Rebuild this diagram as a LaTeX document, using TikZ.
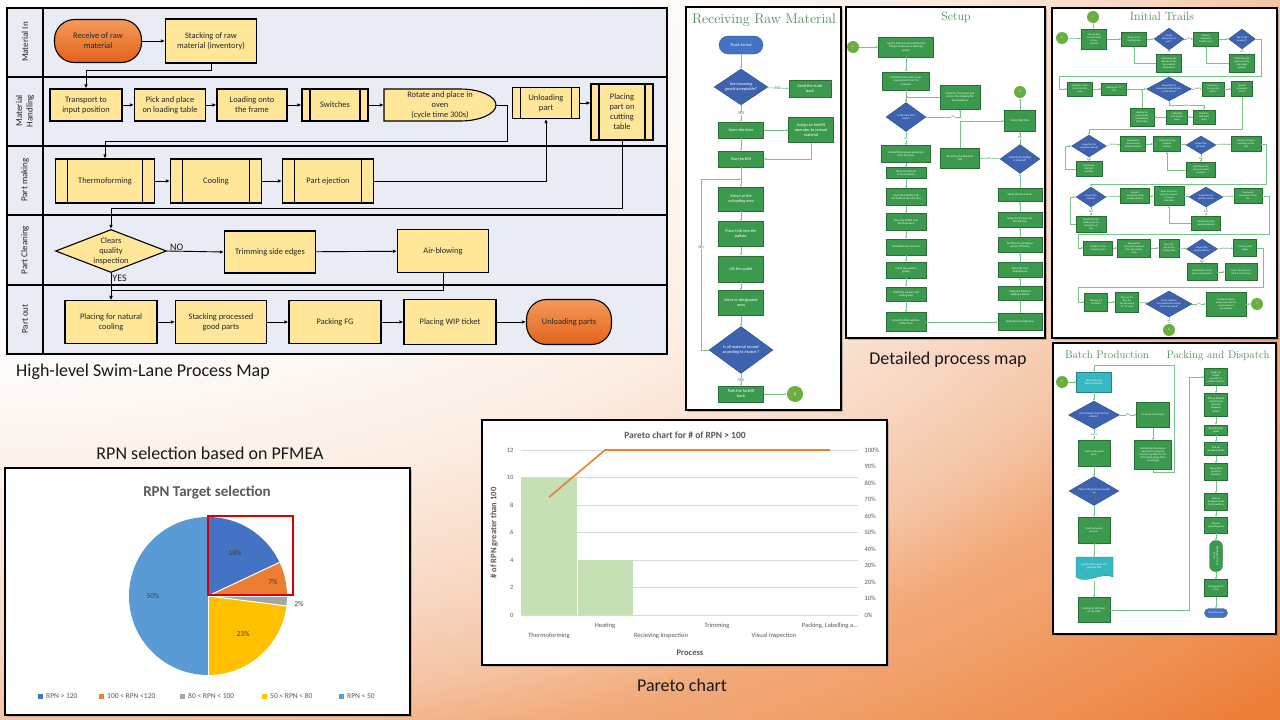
\documentclass[tikz,border=0pt]{standalone}
\usepackage{fontspec}
\newfontfamily\calib{Carlito}
\usetikzlibrary{arrows.meta, shapes.geometric, shadows}

\definecolor{lanefill}{HTML}{E9EBF5}
\definecolor{procy}{HTML}{FFE699}
\definecolor{orngA}{HTML}{F59A5B}
\definecolor{orngB}{HTML}{E2631A}
\definecolor{grnbox}{HTML}{3B9A4D}
\definecolor{grnline}{HTML}{78C48B}
\definecolor{grnttl}{HTML}{4E8D5D}
\definecolor{bludec}{HTML}{3D63AF}
\definecolor{bluterm}{HTML}{4472C4}
\definecolor{olvcirc}{HTML}{6BAE3F}
\definecolor{tealbox}{HTML}{36B8C0}
\definecolor{pieA}{HTML}{4472C4}
\definecolor{pieB}{HTML}{ED7D31}
\definecolor{pieC}{HTML}{A5A5A5}
\definecolor{pieD}{HTML}{FFC000}
\definecolor{pieE}{HTML}{5B9BD5}
\definecolor{barg}{HTML}{C5E0B4}
\definecolor{gridg}{HTML}{D9D9D9}
\definecolor{axtxt}{HTML}{595959}
\definecolor{bgA}{HTML}{FCEEE4}
\definecolor{bgB}{HTML}{F8D6C0}
\definecolor{bgC}{HTML}{F5C4A4}
\definecolor{bgD}{HTML}{F2AA7A}
\definecolor{bgE}{HTML}{F0955A}
\definecolor{bgF}{HTML}{EC7C34}

% background: white in the top left corner, orange in the bottom right one
\pgfdeclareradialshading{bgshd}{\pgfpoint{0bp}{0bp}}{color(0bp)=(white); color(7.5bp)=(white); color(11.67bp)=(bgA); color(15bp)=(bgB); color(16.67bp)=(bgC); color(18.17bp)=(bgD); color(20.83bp)=(bgE); color(23.57bp)=(bgF); color(50bp)=(bgF)}

\begin{document}
\begin{tikzpicture}[x=1pt, y=-1pt]
\tikzset{ >={Latex[length=4pt, width=3.5pt]},
  wh/.style 2 args={minimum width=#1pt, minimum height=#2pt},
  fz/.style 2 args={font=\calib\fontsize{#1}{#2}\selectfont},
  fzb/.style 2 args={font=\calib\bfseries\fontsize{#1}{#2}\selectfont},
  lanetxt/.style={rotate=90, fz={9}{10.5}, align=center, text=black!85},
  proc/.style={draw=black, line width=1.1pt, fill=procy, inner sep=1pt, align=center, text=black!85, fz={8.4}{10}},
  pred/.style={proc, path picture={\draw [line width=1.1pt]
      ([xshift=#1pt]path picture bounding box.north west) -- ([xshift=#1pt]path picture bounding box.south west)
      ([xshift=-#1pt]path picture bounding box.north east) -- ([xshift=-#1pt]path picture bounding box.south east);}},
  pred/.default=8,
  term/.style={proc, rounded corners=20pt, top color=orngA, bottom color=orngB},
  dec/.style={diamond, draw=black, line width=1.1pt, fill=procy, inner sep=0pt},
  dectxt/.style={align=center, text=black!85, fz={8.4}{10}},
  link/.style={->, line width=0.9pt},
  yn/.style={fz={10}{12}, text=black!90, inner sep=1pt},
  capt/.style={fz={18}{21}, text=black!90},
  frm/.style={draw=black, line width=2.4pt, fill=white, drop shadow={shadow xshift=1.5pt, shadow yshift=-1.5pt, opacity=0.5}},
  ttl/.style={font=\rmfamily\fontsize{#1}{#1}\selectfont, text=grnttl},
  gstep/.style={draw=grnbox!70!black, line width=0.3pt, fill=grnbox, text=white, align=center, inner sep=0.3pt},
  tstep/.style={gstep, fill=tealbox, draw=tealbox!70!black},
  bterm/.style={gstep, fill=bluterm, draw=bluterm!70!black, rounded corners=#1pt},
  bdec/.style={diamond, fill=bludec, draw=bludec!70!black, line width=0.3pt, inner sep=0pt},
  dtx/.style={text=white, align=center},
  gcirc/.style={circle, fill=olvcirc, text=white, inner sep=0pt, minimum size=#1pt},
  gl/.style={draw=grnline, line width=0.6pt, -{Latex[length=2.2pt, width=2pt]}},
  glbl/.style={fill=white, inner sep=0.3pt, text=grnbox!80!black},
  chfrm/.style={draw=black, line width=1.8pt, fill=white, drop shadow={shadow xshift=2pt, shadow yshift=-2pt, opacity=0.4}},
  pietxt/.style={fz={7.5}{9}, text=black!75},
  lgtxt/.style={fz={7.5}{9}, text=axtxt, anchor=west, inner sep=0pt},
  axlbl/.style={fz={6.5}{8}, text=axtxt},
  axttl/.style={fzb={8.5}{10}, text=axtxt},
}

\useasboundingbox (0,0) rectangle (1280,720);
\begin{scope}
\clip (0,0) rectangle (1280,720);
\shade [shading=bgshd] (0,0) ellipse [x radius=1920pt, y radius=1080pt];
\end{scope}

% swim lanes
\fill [lanefill] (7,8) rectangle (667,354);
\draw [line width=1.8pt] (7,8) rectangle (667,354);
\draw [line width=1.8pt] (43,8) -- (43,354);
\draw [line width=1.8pt] (7,77)  -- (667,77);
\draw [line width=1.8pt] (7,146) -- (667,146);
\draw [line width=1.8pt] (7,215) -- (667,215);
\draw [line width=1.8pt] (7,285) -- (667,285);

\node [lanetxt] (lnA) at (25,42)  {Material In};
\node [lanetxt] (lnB) at (25,111) {Material\\Handling};
\node [lanetxt] (lnC) at (25,180) {Part making};
\node [lanetxt] (lnD) at (25,250) {Part Cleaning};
\node [lanetxt] (lnE) at (25,319) {Part out};

\node [term, wh={87}{43}] (rcv) at (98,41)  {Receive of raw\\material};
\node [proc, wh={91}{44}] (stk) at (211,41) {Stacking of raw\\material (inventory)};

\node [proc, wh={72}{32}] (trn) at (86,105)  {Transport to\\input position};
\node [proc, wh={71}{32}] (pnp) at (170,105) {Pick and place\\on loading table};
\node [proc, wh={70}{32}] (ldf) at (252,105) {Loading onto\\the frame};
\node [pred, wh={66}{32}] (swt) at (335,105) {Switches};
\draw [line width=1.1pt, fill=procy] (384,89) -- (460,89)
      arc [start angle=90, end angle=-90, x radius=36pt, y radius=16pt] -- (384,121) -- cycle;
\node [dectxt, wh={112}{32}, inner sep=0pt] (ovn) at (440,105) {Rotate and place in\\oven\\(cycle time 300s)};
\node [pred, wh={67}{31}] (unl) at (546,103) {Unloading\\part};
\node [pred, wh={62}{56}] (pct) at (622,112) {Placing\\part on\\cutting\\table};

\node [pred=12, wh={99}{44}] (thf) at (105,181) {Thermoforming};
\node [pred=12, wh={91}{44}] (col) at (216,181) {Cooling};
\node [pred=12, wh={91}{44}] (pej) at (328,181) {Part ejection};

\node [dec, wh={111}{43}, label={[dectxt]center:{Clears\\quality\\inspection}}] (cqi) at (111,251) {};
\node [proc, wh={91}{42}] (tse) at (270,252) {Trimming side edges};
\node [proc, wh={91}{43}] (air) at (443,251) {Air-blowing};

\node [proc, wh={92}{43}] (pnc) at (111,322) {Placing for natural\\cooling};
\node [proc, wh={91}{43}] (spg) at (221,322) {Stacking processed\\good parts};
\node [proc, wh={92}{43}] (pfg) at (335,322) {Packing FG};
\node [proc, wh={92}{45}] (wip) at (450,322) {Placing WIP ticket};
\node [term, wh={85}{45}] (unp) at (569,322) {Unloading parts};

\draw [link] (rcv) -- (stk);
\draw [link] (stk.south) -- ++(0,7) -| (trn.north);
\draw [link] (trn) -- (pnp);
\draw [link] (pnp) -- (ldf);
\draw [link] (ldf) -- (swt);
\draw [link] (swt) -- (ovn);
\draw [link] (ovn.east) -- (507,105) -- (507,141) -| (thf.north);
\draw [link] (thf) -- (col);
\draw [link] (col) -- (pej);
\draw [link] (pej.east) -| (unl.south);
\draw [link] (unl.east) -- (unl.east -| pct.west);
\draw [link] (pct.south) -- (622,208) -| (cqi.north);
\draw [link] (cqi.east) -- node [yn, pos=0.17, anchor=south, yshift=-1pt] {NO} (tse.west);
\draw [link] (tse) -- (air);
\draw [link] (air.south) -- (443,290) -| (pnc.north);
\draw [link] (cqi.south) -- node [yn, pos=0.2, anchor=west] {YES} (pnc.north);
\draw [link] (pnc) -- (spg);
\draw [link] (spg) -- (pfg);
\draw [link] (pfg) -- (wip);
\draw [link] (wip) -- (unp);

\node [capt] (slcap) at (143,372) {High-level Swim-Lane Process Map};

% receiving raw material
\draw [frm] (686,7) rectangle (841,410);
\begin{scope}[every node/.append style={fz={4.2}{4.9}}]
\node [ttl=14] (rrmt) at (764,20) {Receiving Raw Material};
\node [bterm=9, wh={44}{18}] (trk) at (741,45) {Truck Arrival};
\node [bdec, wh={54}{36}, label={[dtx]center:{Are incoming\\goods acceptable?}}] (agq) at (741,87) {};
\node [gstep, wh={42}{17}] (stb) at (810,89) {Send the truck\\back};
\node [gstep, wh={45}{16}] (opd) at (741,130) {Open the door};
\node [gstep, wh={45}{25}] (afo) at (811,130) {Assign an forklift\\operator to unload\\material};
\node [gstep, wh={45}{16}] (sfl) at (741,159) {Start forklift};
\node [gstep, wh={45}{24}] (aua) at (741,199) {Arrive at the\\unloading area};
\node [gstep, wh={45}{25}] (pfp) at (741,234) {Place fork into the\\pallate};
\node [gstep, wh={45}{26}] (ltp) at (741,269) {Lift the pallet};
\node [gstep, wh={45}{25}] (dda) at (741,303) {Drive to designated\\area};
\node [bdec, wh={64}{47}, label={[dtx]center:{Is all material moved\\according to invoice ?}}] (amm) at (741,350) {};
\node [gstep, wh={45}{16}] (pfb) at (741,394) {Park the forklift\\back};
\node [gcirc=16] (cA1) at (795,394) {A};

\draw [gl] (trk) -- (agq);
\draw [gl] (agq) -- node [glbl] {NO} (stb);
\draw [gl] (agq) -- node [glbl] {YES} (opd);
\draw [gl] (opd) -- (afo);
\draw [gl] (opd) -- (sfl);
\draw [gl] (afo.south) |- (sfl.east);
\draw [gl] (sfl) -- (aua);
\draw [gl] (aua) -- (pfp);
\draw [gl] (pfp) -- (ltp);
\draw [gl] (ltp) -- (dda);
\draw [gl] (dda) -- (amm);
\draw [gl] (amm) -- node [glbl] {YES} (pfb);
\draw [gl] (pfb) -- (cA1);
\draw [gl] (amm.west) -- (701,350) -- node [glbl, pos=0.6] {No} (701,179) -- (741,179);
\end{scope}

% setup
\draw [frm] (846,7) rectangle (1045,338);
\begin{scope}[every node/.append style={fz={2.8}{3.3}}]
\node [ttl=12] (sett) at (956,17) {Setup};
\node [gcirc=12] (cA2) at (853,47) {A};
\node [gstep, wh={55}{20}] (lgm) at (906,47) {Log the material received into the\\Enterprise Resource Planning\\system};
\node [gstep, wh={47}{18}] (sch) at (906,81) {Scheduling the order as per\\requirement from the\\customer};
\node [gstep, wh={40}{24}] (cts) at (960,97) {Check for Tool status and\\what is the stripping the\\tool readiness};
\node [bdec, wh={40}{29}, label={[dtx]center:{Is the new tool\\ready?}}] (ntr) at (906,117) {};
\node [gstep, wh={49}{17}] (ups) at (906,154) {Unload the previous setup tool\\from the press};
\node [gstep, wh={40}{11}] (pot) at (906,173) {Place the old tool\\in the inventory};
\node [gstep, wh={40}{17}] (pfl) at (906,197) {Place the forklift to lift\\the Pallet of the new tool};
\node [gstep, wh={40}{17}] (dfp) at (906,222) {Drive the forklift near\\the Press Area};
\node [gstep, wh={40}{16}] (intl) at (906,247) {Installation the new tool};
\node [gstep, wh={40}{16}] (iwg) at (906,270) {Install the wooden\\guides};
\node [gstep, wh={40}{14}] (ivc) at (906,294) {Install the vacuum and\\cooling lines};
\node [gstep, wh={40}{19}] (sls) at (906,322) {Setup the limit switches\\of the Press};
\node [gstep, wh={44}{17}] (smf) at (1020,322) {Setup the moving Frame};
\node [gstep, wh={44}{14}] (stl) at (1020,293) {Setup the Table for\\loading material};
\node [gstep, wh={44}{15}] (stt) at (1020,270) {Setup the Tool\\temperature};
\node [gstep, wh={44}{15}] (sfo) at (1020,245) {Set the Fan orientation\\and on off timing};
\node [gstep, wh={44}{15}] (spp) at (1020,220) {Setup the Pressure for\\Part Ejection};
\node [gstep, wh={44}{13}] (soz) at (1020,195) {Setup the Oven zones};
\node [bdec, wh={40}{29}, label={[dtx]center:{Confirm the Setting\\is all good?}}] (csg) at (1020,159) {};
\node [gstep, wh={31}{21}] (sit) at (1020,121) {Start Initial Trials};
\node [gcirc=12] (cB1) at (1020,92) {B};
\node [gstep, wh={39}{20}] (rrt) at (960,158) {Receiving the Required\\tool};

\draw [gl] (cA2) -- (lgm);
\draw [gl] (lgm) -- (sch);
\draw [gl] (sch) -- (ntr);
\draw [gl] (ntr.east) -| node [glbl, pos=0.4] {No} (cts.south);
\draw [gl] (cts.west) -- (906,97);
\draw [gl] (ntr) -- node [glbl] {Yes} (ups);
\draw [gl] (ups) -- (pot);
\draw [gl] (pot) -- (pfl);
\draw [gl] (pfl) -- (dfp);
\draw [gl] (dfp) -- (intl);
\draw [gl] (intl) -- (iwg);
\draw [gl] (iwg) -- (ivc);
\draw [gl] (ivc) -- (sls);
\draw [gl] (sls) -- (smf);
\draw [gl] (smf) -- (stl);
\draw [gl] (stl) -- (stt);
\draw [gl] (stt) -- (sfo);
\draw [gl] (sfo) -- (spp);
\draw [gl] (spp) -- (soz);
\draw [gl] (soz) -- (csg);
\draw [gl] (csg) -- node [glbl] {Yes} (sit);
\draw [gl] (sit) -- (cB1);
\draw [gl] (csg) -- node [glbl] {No} (rrt);
\draw [gl] (rrt.north) |- (sit.west);
\end{scope}

% initial trails
\draw [frm] (1052,8) rectangle (1277,338);
\begin{scope}[every node/.append style={fz={2.5}{3}}]
\node [ttl=12] (itt) at (1162,16) {Initial Trails};
\node [gcirc=12] (cB2) at (1062,38) {B};
\node [gcirc=12] (cC1) at (1093,17) {C};
\node [gstep, wh={25}{20}] (lop) at (1094,39) {Lift one part\\from the stack\\of raw\\material};
\node [gstep, wh={25}{14}] (plt) at (1134,39) {Place on the\\loading table};
\node [bdec, wh={30}{22}, label={[dtx]center:{Proper\\placement of\\part?}}] (ppp) at (1169,39) {};
\node [gstep, wh={25}{14}] (flh) at (1206,39) {Frame is\\lowered to\\hold the part};
\node [bdec, wh={27}{20}, label={[dtx]center:{Did it hold\\properly?}}] (dhp) at (1242,39) {};
\node [gstep, wh={25}{18}] (cfm) at (1169,63) {Calibrating the\\fixtures as per\\the material\\dimensions};
\node [gstep, wh={25}{18}] (cpg) at (1242,63) {Calibrating the\\pressure of the\\pneumatic\\grippers};

\node [gstep, wh={25}{14}] (rfo) at (1080,89) {Rotation of the\\frame into the\\oven};
\node [gstep, wh={25}{12}] (hxm) at (1114,89) {Heating for "X"\\mins};
\node [bdec, wh={45}{24}, label={[dtx]center:{Inspection for\\temperature distribution\\on the blank?}}] (itd) at (1169,89) {};
\node [gstep, wh={22}{14}] (rps) at (1213,89) {Rotation in\\to the press\\station};
\node [gstep, wh={21}{15}] (umt) at (1242,89) {Upward\\movement\\of the};
\node [gstep, wh={24}{18}] (hat) at (1142,117) {Heating for\\acquiring the\\temperature\\distribution};
\node [gstep, wh={21}{14}] (cir) at (1177,117) {Calibration\\of IR Heater\\zones};
\node [gstep, wh={22}{14}] (ccs) at (1204,117) {Check for\\cold spots\\zones};

\node [bdec, wh={35}{22}, label={[dtx]center:{Inspection for\\complete sealing?}}] (cse) at (1089,146) {};
\node [gstep, wh={25}{15}] (dmw) at (1133,144) {Downward\\movement of\\wooden fixtures};
\node [gstep, wh={27}{15}] (tvs) at (1167,144) {Thermoforming\\(Vacuum\\Suction)};
\node [bdec, wh={30}{18}, label={[dtx]center:{Inspect the\\forming?}}] (ift) at (1201,145) {};
\node [gstep, wh={30}{15}] (fcf) at (1246,144) {Forced cooling by\\switching on the\\fans};
\node [gstep, wh={26}{15}] (rls) at (1089,169) {Recalibrate\\the limit\\switches};
\node [gstep, wh={29}{15}] (rvp) at (1201,170) {Recalibrate the\\vacuum suction\\pressure};

\node [bdec, wh={30}{20}, label={[dtx]center:{Inspect the\\cooling?}}] (icl) at (1091,197) {};
\node [gstep, wh={29}{15}] (umw) at (1135,196) {Upward\\movement of the\\wooden fixtures};
\node [gstep, wh={30}{19}] (bop) at (1169,196) {Blow out of the\\part by pressure\\in reverse\\direction};
\node [bdec, wh={34}{20}, label={[dtx]center:{Inspection for\\ejection issues?}}] (iei) at (1206,197) {};
\node [gstep, wh={28}{15}] (dmd) at (1248,196) {Downward\\movement of the\\die};
\node [gstep, wh={30}{16}] (rlf) at (1091,224) {Recalibrate the\\limiting and set\\orientation of\\fans};
\node [gstep, wh={29}{14}] (rep) at (1206,223) {Recalibrating the\\ejection pressure};

\node [gstep, wh={29}{14}] (rua) at (1098,248) {Rotation to the\\unloading area};
\node [gstep, wh={33}{18}] (rtp) at (1134,248) {Remove the\\thermoformed part\\from the loading\\table};
\node [gstep, wh={20}{18}] (pcu) at (1169,248) {Place the\\part on the\\cutting table};
\node [bdec, wh={31}{20}, label={[dtx]center:{Inspect the\\quality defects?}}] (iqd) at (1202,249) {};
\node [gstep, wh={23}{17}] (trm) at (1245,248) {Trimming side\\edges};
\node [gstep, wh={30}{17}] (opp) at (1202,272) {Optimization of the\\process parameters};
\node [gstep, wh={32}{17}] (rjs) at (1241,272) {Reject the part and\\stack it up for scrap};

\node [gstep, wh={23}{18}] (bod) at (1096,302) {Blowing off\\the debris};
\node [gstep, wh={23}{20}] (pff) at (1127,302) {Place on the\\floor for\\forced cooling\\for "N" mins};
\node [bdec, wh={46}{26}, label={[dtx]center:{Check whether\\consecutive XX number\\of parts are good?}}] (cxg) at (1169,304) {};
\node [gstep, wh={40}{24}] (ibp) at (1226,304) {Initiate for batch\\production with the\\current process\\parameters};
\node [gcirc=12] (cC2) at (1257,304) {C};
\node [gcirc=12] (cB3) at (1169,330) {B};

\draw [gl] (cB2) -- (lop);
\draw [gl] (cC1) -- (lop);
\draw [gl] (lop) -- (plt);
\draw [gl] (plt) -- (ppp);
\draw [gl] (ppp) -- node [glbl] {Yes} (flh);
\draw [gl] (ppp) -- node [glbl] {No} (cfm);
\draw [gl] (cfm.west) -| (plt.south);
\draw [gl] (flh) -- (dhp);
\draw [gl] (dhp) -- node [glbl] {No} (cpg);
\draw [gl] (cpg.west) -| (flh.south);
\draw [gl] (dhp.east) -- (1261,39) |- (1059,76) |- (rfo.west);
\draw [gl] (rfo) -- (hxm);
\draw [gl] (hxm) -- (itd);
\draw [gl] (itd) -- node [glbl] {Good} (rps);
\draw [gl] (rps) -- (umt);
\draw [gl] (itd.south) -- ++(0,4) -| node [glbl, pos=0.25] {Bad} (ccs.north);
\draw [gl] (ccs) -- (cir);
\draw [gl] (cir) -- (hat);
\draw [gl] (hat.north) -- (1142,89);
\draw [gl] (umt.south) |- (1089,129) -- (cse.north);
\draw [gl] (cse) -- node [glbl] {Good} (dmw);
\draw [gl] (dmw) -- (tvs);
\draw [gl] (tvs) -- (ift);
\draw [gl] (ift) -- node [glbl] {Good} (fcf);
\draw [gl] (cse) -- node [glbl] {Bad} (rls);
\draw [gl] (rls.west) -- (1065,169) |- (cse.west);
\draw [gl] (ift) -- node [glbl] {Bad} (rvp);
\draw [gl] (rvp.west) -| (tvs.south);
\draw [gl] (fcf.east) -- (1266,144) |- (1091,184) -- (icl.north);
\draw [gl] (icl) -- node [glbl] {Good} (umw);
\draw [gl] (umw) -- (bop);
\draw [gl] (bop) -- (iei);
\draw [gl] (iei) -- node [glbl] {Good} (dmd);
\draw [gl] (icl) -- node [glbl] {Bad} (rlf);
\draw [gl] (rlf.west) -- (1070,224) |- (icl.west);
\draw [gl] (iei) -- node [glbl] {Bad} (rep);
\draw [gl] (rep.west) -| (bop.south);
\draw [gl] (dmd.east) -- (1269,196) |- (1078,234) |- (rua.west);
\draw [gl] (rua) -- (rtp);
\draw [gl] (rtp) -- (pcu);
\draw [gl] (pcu) -- (iqd);
\draw [gl] (iqd) -- node [glbl] {Good} (trm);
\draw [gl] (iqd) -- node [glbl] {Bad} (opp);
\draw [gl] (opp) -- (rjs);
\draw [gl] (trm.east) -- (1263,248) |- (1078,287) |- (bod.west);
\draw [gl] (bod) -- (pff);
\draw [gl] (pff) -- (cxg);
\draw [gl] (cxg) -- node [glbl] {Yes} (ibp);
\draw [gl] (ibp) -- (cC2);
\draw [gl] (cxg) -- node [glbl] {No} (cB3);
\end{scope}

% batch production, packing and dispatch
\draw [frm] (1053,343) rectangle (1276,634);
\begin{scope}[every node/.append style={fz={2.6}{3.1}}]
\node [ttl=11] (bpt) at (1107,355) {Batch Production};
\node [ttl=11] (pdt) at (1218,356) {Packing and Dispatch};
\node [gcirc=12] (cC3) at (1062,382) {C};
\node [tstep, wh={35}{20}] (tbp) at (1094,382) {Thermoforming\\Batch Production};
\node [bdec, wh={51}{28}, label={[dtx]center:{Visual Quality Inspection for\\defects?}}] (vqi) at (1094,415) {};
\node [gstep, wh={33}{25}] (scp) at (1153,415) {Scrap the current part};
\node [gstep, wh={37}{29}] (rpp) at (1153,455) {Rechecking the process\\parameters using the\\Process Log Sheet for the\\shift and Recalling them\\accordingly};
\node [gstep, wh={32}{26}] (sgp) at (1094,453) {Stack up the good\\parts};
\node [bdec, wh={50}{29}, label={[dtx]center:{Check if XX goods are stacked\\up}}] (cxs) at (1094,491) {};
\node [gstep, wh={32}{26}] (pwp) at (1094,530) {Plastic wrapping\\process};
\draw [fill=tealbox, draw=tealbox!70!black, line width=0.3pt] (1076,557) -- (1113,557) -- (1113,577)
      .. controls (1102,571) and (1087,585) .. (1076,577) -- cycle;
\node [dtx, wh={37}{18}, inner sep=0pt] (lew) at (1094,566) {Log into ERP system and\\generate WIP};
\node [gstep, wh={32}{25}] (pwt) at (1094,610) {Pasting the WIP ticket\\on the stack};

\node [gstep, wh={23}{17}] (afl) at (1216,377) {Assign an\\forklift\\operator to\\unload material};
\node [gstep, wh={23}{23}] (pfm) at (1216,405) {Pick up finished\\material and\\take it to\\wrapping\\station};
\node [gstep, wh={23}{10}] (wfg) at (1216,430) {Wrap finished\\goods};
\node [gstep, wh={23}{13}] (pwg) at (1216,449) {Pick up\\wrapped goods};
\node [gstep, wh={23}{17}] (tpg) at (1216,472) {Take packed\\goods to\\inventory};
\node [gstep, wh={23}{17}] (pwi) at (1216,502) {Pick up\\wrapped goods\\from inventory};
\node [gstep, wh={23}{16}] (dua) at (1216,525) {Drive to\\unloading area};
\node [gstep, rounded corners=6pt, rotate=-90, wh={31}{13}] (wta) at (1216,556) {Waiting for Truck's\\arrival};
\node [gstep, wh={23}{17}] (lgt) at (1216,588) {Load goods on\\truck};
\node [bterm=4.5, wh={23}{9}] (ctd) at (1216,613) {Close the door};

\draw [gl] (cC3) -- (tbp);
\draw [gl] (tbp) -- (vqi);
\draw [gl] (vqi) -- node [glbl] {Bad} (scp);
\draw [gl] (vqi) -- node [glbl] {Good} (sgp);
\draw [gl] (scp) -- (rpp);
\draw [gl] (rpp.south) -- ++(0,3) -| (1174,365) -| (tbp.north);
\draw [gl] (sgp) -- (cxs);
\draw [gl] (cxs) -- (pwp);
\draw [gl] (pwp) -- (1094,557);
\draw [gl] (1094,581) -- (pwt);
\draw [gl] (pwt.east) -- (1189,610) |- (afl.west);
\draw [gl] (afl) -- (pfm);
\draw [gl] (pfm) -- (wfg);
\draw [gl] (wfg) -- (pwg);
\draw [gl] (pwg) -- (tpg);
\draw [gl] (tpg) -- (pwi);
\draw [gl] (pwi) -- (dua);
\draw [gl] (dua) -- (wta);
\draw [gl] (wta) -- (lgt);
\draw [gl] (lgt) -- (ctd);
\end{scope}

\node [capt] (dpcap) at (948,360) {Detailed process map};

% pie chart
\node [capt] (pfcap) at (210,453) {RPN selection based on PFMEA};
\draw [chfrm] (5,468) rectangle (410,715);
\node [fzb={15}{17}, text=axtxt] (rts) at (207,492) {RPN Target selection};
\coordinate (pc) at (208,596);
\fill [pieA] (pc) -- ++(90:79pt)   arc [start angle=90,   end angle=25.2, radius=79pt] -- cycle;
\fill [pieB] (pc) -- ++(25.2:79pt) arc [start angle=25.2, end angle=0,    radius=79pt] -- cycle;
\fill [pieC] (pc) -- ++(0:79pt)    arc [start angle=0,    end angle=-7.2, radius=79pt] -- cycle;
\fill [pieD] (pc) -- ++(-7.2:79pt) arc [start angle=-7.2, end angle=-90,  radius=79pt] -- cycle;
\fill [pieE] (pc) -- ++(-90:79pt)  arc [start angle=-90,  end angle=-270, radius=79pt] -- cycle;
\foreach \a in {90,25.2,0,-7.2,-90}
  \draw [white, line width=1pt] (pc) -- ++(\a:79pt);
\node [pietxt] (pl18) at (235,553) {18\%};
\node [pietxt] (pl7)  at (273,582) {7\%};
\node [pietxt] (pl2)  at (299,604) {2\%};
\node [pietxt] (pl23) at (243,634) {23\%};
\node [pietxt] (pl50) at (153,596) {50\%};
\draw [red!85!black, line width=1.2pt] (208,516) rectangle (293,595);
\foreach \c/\x/\t [count=\i] in {pieA/38/{RPN > 120}, pieB/99/{100 < RPN <120}, pieC/180/{80 < RPN < 100}, pieD/262/{50 < RPN < 80}, pieE/339/{RPN < 50}} {
  \node [fill=\c, minimum size=5pt, inner sep=0pt] (lsq\i) at (\x+2.5,696) {};
  \node [lgtxt] (ltx\i) at (\x+8,696) {\t};
}

% pareto chart
\draw [chfrm] (482,420) rectangle (887,665);
\node [fzb={9.5}{11}, text=axtxt] (pttl) at (685,435) {Pareto chart for \# of RPN > 100};
\foreach \v in {0,2,...,12} {
  \draw [gridg, line width=0.6pt] (521,615-\v*13.75) -- (858,615-\v*13.75);
  \node [axlbl, anchor=east] (yl\v) at (517,615-\v*13.75) {\v};
}
\foreach \p in {0,10,...,100}
  \node [axlbl, anchor=west] (yr\p) at (861,615-\p*1.65) {\p\%};
\fill [barg] (521,615) rectangle (577,477.5);
\fill [barg] (577,615) rectangle (633,560);
\draw [white, line width=0.4pt] (577,615) -- (577,560);
\draw [pieB, line width=1.6pt] (549,497.2) -- (605,450) -- (830,450);
\node [axlbl] (cx1) at (549,636) {Thermoforming};
\node [axlbl] (cx2) at (605,626) {Heating};
\node [axlbl] (cx3) at (661,636) {Recieving Inspection};
\node [axlbl] (cx4) at (717,626) {Trimming};
\node [axlbl] (cx5) at (774,636) {Visual Inspection};
\node [axlbl] (cx6) at (830,626) {Packing, Labelling a...};
\node [axttl, rotate=90] (yttl) at (494,533) {\# of RPN greater than 100};
\node [axttl] (xttl) at (690,653) {Process};
\node [capt] (pacap) at (682,685) {Pareto chart};

\end{tikzpicture}
\end{document}
